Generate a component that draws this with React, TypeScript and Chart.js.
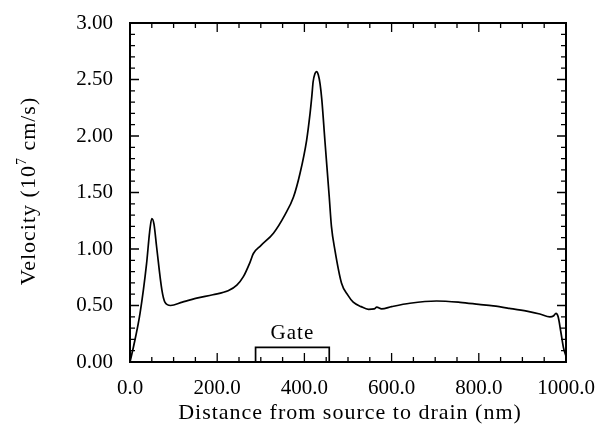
import React, { useEffect, useRef } from "react";
import { Chart, registerables } from "chart.js";

Chart.register(...registerables);

const distanceNm = [0, 8, 23, 38, 45, 50, 55, 61, 73, 80, 93, 120, 153, 190, 225, 245, 260, 275, 283, 300, 329, 355, 375, 390, 405, 413, 417, 420, 424, 428, 432, 436, 440, 447, 457, 462, 470, 485, 500, 512, 530, 547, 560, 566, 577, 600, 642, 703, 757, 800, 833, 870, 910, 940, 963, 972, 977, 982, 988, 994, 1000];
const velocity = [0.0, 0.135, 0.43, 0.87, 1.15, 1.27, 1.22, 1.02, 0.64, 0.53, 0.5, 0.53, 0.565, 0.595, 0.63, 0.68, 0.755, 0.88, 0.96, 1.03, 1.14, 1.3, 1.46, 1.67, 1.96, 2.2, 2.35, 2.48, 2.55, 2.57, 2.54, 2.46, 2.32, 1.96, 1.46, 1.2, 0.99, 0.7, 0.59, 0.53, 0.49, 0.466, 0.47, 0.485, 0.47, 0.49, 0.52, 0.54, 0.528, 0.51, 0.496, 0.475, 0.45, 0.425, 0.4, 0.41, 0.43, 0.4, 0.27, 0.13, 0.05];

const gateX = [288, 288, 457, 457];
const gateY = [0, 0.13, 0.13, 0];
const gateLabel = "Gate";

const xMajorTicks = [0, 200, 400, 600, 800, 1000];
const yMajorTicks = [0, 0.5, 1.0, 1.5, 2.0, 2.5, 3.0];

const xTitle = "Distance from source to drain (nm)";
const yTitleBefore = "Velocity (10";
const yTitleSup = "7";
const yTitleAfter = " cm/s)";

const FONT = "'Liberation Serif', 'Times New Roman', serif";

export default function App() {
  const ref = useRef<HTMLCanvasElement | null>(null);

  useEffect(() => {
    document.body.style.margin = "0";
    const canvas = ref.current;
    if (!canvas) return;

    const decorPlugin = {
      id: "decor",
      afterDraw(chart: any) {
        const ctx = chart.ctx;
        const xs = chart.scales.x;
        const ys = chart.scales.y;
        const area = chart.chartArea;
        ctx.save();
        ctx.strokeStyle = "#000";
        ctx.lineWidth = 1.3;
        for (let v = 0; v <= 1000; v += 50) {
          const px = xs.getPixelForValue(v);
          const len = v % 200 === 0 ? 9 : 5;
          ctx.beginPath();
          ctx.moveTo(px, area.bottom);
          ctx.lineTo(px, area.bottom - len);
          ctx.moveTo(px, area.top);
          ctx.lineTo(px, area.top + len);
          ctx.stroke();
        }
        for (let i = 0; i <= 30; i++) {
          const v = i / 10;
          const py = ys.getPixelForValue(v);
          const len = i % 5 === 0 ? 9 : 5;
          ctx.beginPath();
          ctx.moveTo(area.left, py);
          ctx.lineTo(area.left + len, py);
          ctx.moveTo(area.right, py);
          ctx.lineTo(area.right - len, py);
          ctx.stroke();
        }
        ctx.lineWidth = 2;
        ctx.strokeRect(area.left, area.top, area.right - area.left, area.bottom - area.top);

        ctx.fillStyle = "#000";
        (ctx as any).letterSpacing = "1px";
        ctx.font = `21px ${FONT}`;
        ctx.textAlign = "center";
        ctx.textBaseline = "bottom";
        const gx = xs.getPixelForValue((gateX[0] + gateX[2]) / 2);
        const gy = ys.getPixelForValue(gateY[1]);
        ctx.fillText(gateLabel, gx, gy - 3);

        ctx.font = `22px ${FONT}`;
        ctx.textBaseline = "middle";
        ctx.textAlign = "center";
        ctx.fillText(xTitle, (area.left + area.right) / 2 + 2, 413);

        ctx.translate(29, 191);
        ctx.rotate(-Math.PI / 2);
        ctx.textAlign = "left";
        const mainFont = `22px ${FONT}`;
        const supFont = `14px ${FONT}`;
        ctx.font = mainFont;
        const w1 = ctx.measureText(yTitleBefore).width;
        const w3 = ctx.measureText(yTitleAfter).width;
        ctx.font = supFont;
        const w2 = ctx.measureText(yTitleSup).width;
        const total = w1 + w2 + w3;
        let x0 = -total / 2;
        ctx.font = mainFont;
        ctx.fillText(yTitleBefore, x0, 0);
        x0 += w1;
        ctx.font = supFont;
        ctx.fillText(yTitleSup, x0, -7);
        x0 += w2;
        ctx.font = mainFont;
        ctx.fillText(yTitleAfter, x0, 0);
        (ctx as any).letterSpacing = "0px";
        ctx.restore();
      },
    };

    const zeroPad = (scale: any) => {
      scale.paddingLeft = 0;
      scale.paddingRight = 0;
      scale.paddingTop = 0;
      scale.paddingBottom = 0;
    };

    const chart = new Chart(canvas, {
      type: "line",
      data: {
        datasets: [
          {
            data: distanceNm.map((d, i) => ({ x: d, y: velocity[i] })),
            borderColor: "#000",
            borderWidth: 1.7,
            pointRadius: 0,
            fill: false,
            cubicInterpolationMode: "monotone",
          },
          {
            data: gateX.map((d, i) => ({ x: d, y: gateY[i] })),
            borderColor: "#000",
            borderWidth: 1.7,
            pointRadius: 0,
            fill: false,
            tension: 0,
          },
        ],
      },
      options: {
        animation: false,
        responsive: false,
        maintainAspectRatio: false,
        layout: { padding: { top: 23, right: 37, left: 0, bottom: 0 } },
        plugins: { legend: { display: false }, tooltip: { enabled: false } },
        scales: {
          x: {
            type: "linear",
            min: 0,
            max: 1000,
            afterFit(scale: any) {
              scale.height = 70;
              zeroPad(scale);
            },
            afterBuildTicks(scale: any) {
              scale.ticks = xMajorTicks.map((v) => ({ value: v }));
            },
            grid: { display: false, drawTicks: false },
            border: { display: false },
            ticks: {
              color: "#000",
              padding: 14,
              font: { family: FONT, size: 21 },
              callback: (v: any) => Number(v).toFixed(1),
              maxRotation: 0,
            },
          },
          y: {
            type: "linear",
            min: 0,
            max: 3,
            afterFit(scale: any) {
              scale.width = 130;
              zeroPad(scale);
            },
            afterBuildTicks(scale: any) {
              scale.ticks = yMajorTicks.map((v) => ({ value: v }));
            },
            grid: { display: false, drawTicks: false },
            border: { display: false },
            ticks: {
              color: "#000",
              padding: 17,
              font: { family: FONT, size: 21 },
              callback: (v: any) => Number(v).toFixed(2),
            },
          },
        },
      },
      plugins: [decorPlugin],
    } as any);

    return () => chart.destroy();
  }, []);

  return (
    <div style={{ width: 603, height: 432 }}>
      <canvas ref={ref} width={603} height={432} style={{ display: "block" }} />
    </div>
  );
}
